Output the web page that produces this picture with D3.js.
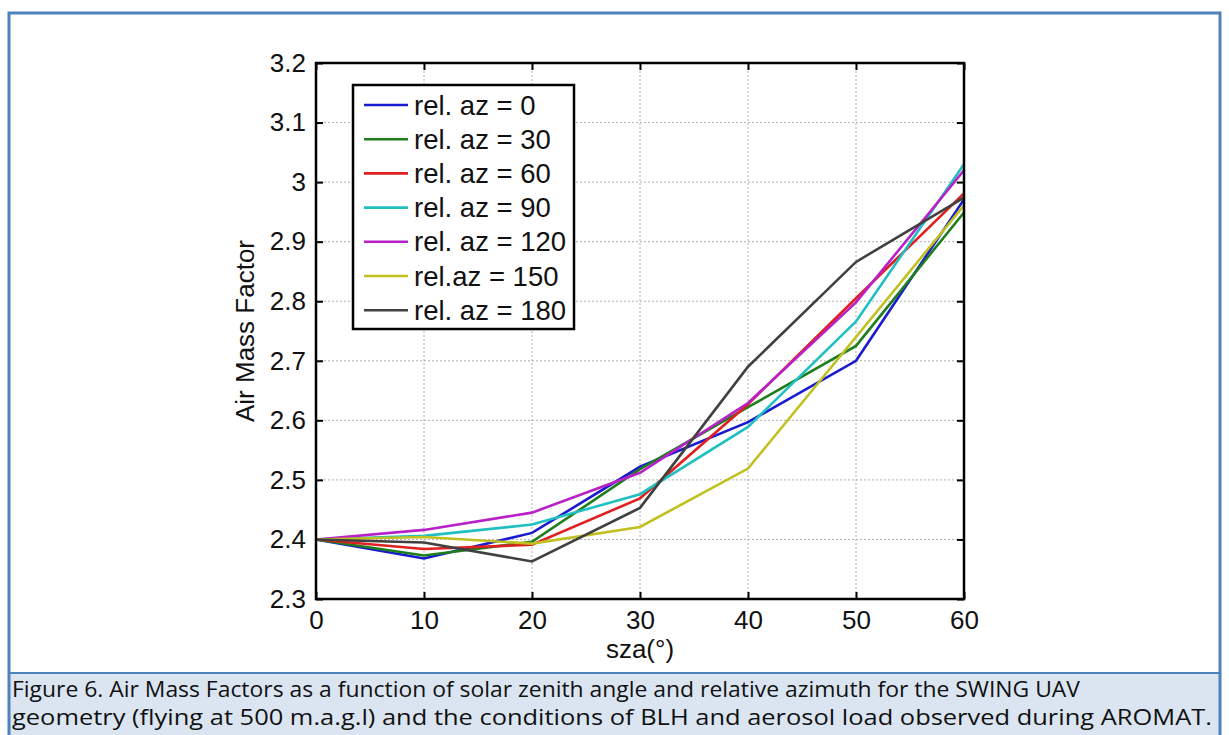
<!DOCTYPE html>
<html lang="en">
<head>
<meta charset="utf-8">
<title>Air Mass Factors</title>
<script src="https://d3js.org/d3.v7.min.js"></script>
<style>
    body { margin: 0; background: #fff; }
    svg { display: block; }
    .tick-label { font-family: "Liberation Sans", Arial, sans-serif; font-size: 26px; fill: #111; }
    .legend-label { font-family: "Liberation Sans", Arial, sans-serif; font-size: 27.5px; fill: #111; }
    .caption { font-family: "Open Sans", "Noto Sans", sans-serif; font-size: 21.5px; fill: #111; }
</style>
</head>
<body>
<div id="chart"></div>
<script>

// data
const sza = [0, 10, 20, 30, 40, 50, 60]
const seriesNames = ["rel. az = 0", "rel. az = 30", "rel. az = 60", "rel. az = 90", "rel. az = 120", "rel.az = 150", "rel. az = 180"]
const az0   = [2.40, 2.368, 2.411, 2.522, 2.597, 2.700, 2.971]
const az30  = [2.40, 2.373, 2.396, 2.518, 2.622, 2.725, 2.949]
const az60  = [2.40, 2.384, 2.391, 2.469, 2.627, 2.805, 2.981]
const az90  = [2.40, 2.406, 2.425, 2.476, 2.589, 2.766, 3.030]
const az120 = [2.40, 2.416, 2.445, 2.512, 2.629, 2.798, 3.020]
const az150 = [2.40, 2.404, 2.393, 2.421, 2.519, 2.740, 2.961]
const az180 = [2.40, 2.395, 2.363, 2.453, 2.690, 2.866, 2.974]
const seriesColors = ["#1a1ad0", "#1e7e1e", "#e02020", "#20c0c0", "#b820c8", "#c0c020", "#404040"]
const yTicks = [2.3, 2.4, 2.5, 2.6, 2.7, 2.8, 2.9, 3, 3.1, 3.2]
const xTicks = [0, 10, 20, 30, 40, 50, 60]
const captionLines = [
    "Figure 6. Air Mass Factors as a function of solar zenith angle and relative azimuth for the SWING UAV",
    "geometry (flying at 500 m.a.g.l) and the conditions of BLH and aerosol load observed during AROMAT."
]

const allSeries = [az0, az30, az60, az90, az120, az150, az180]

const W = 1229, H = 735
const margin = {top: 63, left: 316, right: 1229 - 964, bottom: 735 - 599}
const width = W - margin.left - margin.right,
      height = H - margin.top - margin.bottom

const svg = d3.select("#chart").append("svg")
    .attr("width", W)
    .attr("height", H)

// caption panel + outer frame
svg.append("rect")
    .attr("x", 9).attr("y", 673)
    .attr("width", 1211).attr("height", 70)
    .attr("fill", "#dbe5f1")
svg.append("line")
    .attr("x1", 9).attr("x2", 1220).attr("y1", 673).attr("y2", 673)
    .attr("stroke", "#4f81bd").attr("stroke-width", 2)
svg.append("path")
    .attr("d", "M9,740 V13 H1220 V740")
    .attr("fill", "none")
    .attr("stroke", "#4f81bd").attr("stroke-width", 3)

svg.selectAll("text.caption")
    .data(captionLines)
    .enter()
    .append("text")
    .attr("class", "caption")
    .attr("x", 12)
    .attr("y", (d, i) => 697 + i * 28)
    .attr("textLength", (d, i) => i === 0 ? 1068 : 1200)
    .attr("lengthAdjust", "spacingAndGlyphs")
    .text(d => d)

const g = svg.append("g")
    .attr("transform", "translate(" + margin.left + "," + margin.top + ")")

const x = d3.scaleLinear().domain([0, 60]).range([0, width])
const y = d3.scaleLinear().domain([2.3, 3.2]).range([height, 0])

// dotted grid
g.append("g")
    .selectAll("line")
    .data(xTicks.slice(1, -1))
    .enter().append("line")
    .attr("x1", d => x(d)).attr("x2", d => x(d))
    .attr("y1", 0).attr("y2", height)
    .attr("stroke", "#b0b0b0").attr("stroke-dasharray", "2,2")
g.append("g")
    .selectAll("line")
    .data(yTicks.slice(1, -1))
    .enter().append("line")
    .attr("x1", 0).attr("x2", width)
    .attr("y1", d => y(d)).attr("y2", d => y(d))
    .attr("stroke", "#b0b0b0").attr("stroke-dasharray", "2,2")

// axes, ticks inward (MATLAB box)
const tickLen = 7
const xAxisB = d3.axisBottom(x).tickValues(xTicks).tickSize(-tickLen).tickPadding(12).tickFormat(d3.format("d"))
const xAxisT = d3.axisTop(x).tickValues(xTicks).tickSize(-tickLen).tickFormat("")
const yAxisL = d3.axisLeft(y).tickValues(yTicks).tickSize(-tickLen).tickPadding(10).tickFormat(d => d3.format("")(+d.toFixed(1)))
const yAxisR = d3.axisRight(y).tickValues(yTicks).tickSize(-tickLen).tickFormat("")

function styleAxis(sel) {
    sel.select(".domain").remove()
    sel.selectAll(".tick line").attr("stroke", "#000").attr("stroke-width", 2)
    sel.selectAll(".tick text").attr("class", "tick-label").attr("fill", "#111")
}

g.append("g").attr("transform", "translate(0," + height + ")").call(xAxisB).call(styleAxis)
g.append("g").call(xAxisT).call(styleAxis)
g.append("g").call(yAxisL).call(styleAxis)
g.append("g").attr("transform", "translate(" + width + ",0)").call(yAxisR).call(styleAxis)

// series lines
const line = d3.line()
    .x((d, i) => x(sza[i]))
    .y(d => y(d))

g.selectAll(".series")
    .data(allSeries)
    .enter()
    .append("path")
    .attr("class", "series")
    .attr("d", line)
    .attr("fill", "none")
    .attr("stroke", (d, i) => seriesColors[i])
    .attr("stroke-width", 2.6)

// plot frame
g.append("rect")
    .attr("width", width).attr("height", height)
    .attr("fill", "none").attr("stroke", "#000").attr("stroke-width", 2.5)

// axis titles
g.append("text")
    .attr("class", "tick-label")
    .attr("x", width / 2)
    .attr("y", height + 59)
    .attr("text-anchor", "middle")
    .text("sza(°)")

g.append("text")
    .attr("class", "tick-label")
    .attr("transform", "translate(" + (-62) + "," + (height / 2) + ") rotate(-90)")
    .attr("text-anchor", "middle")
    .text("Air Mass Factor")

// legend
const legend = g.append("g").attr("transform", "translate(" + (353 - margin.left) + "," + (85 - margin.top) + ")")
legend.append("rect")
    .attr("width", 221).attr("height", 244)
    .attr("fill", "#fff").attr("stroke", "#000").attr("stroke-width", 2.5)

const rows = legend.selectAll(".row")
    .data(seriesNames)
    .enter().append("g")
    .attr("transform", (d, i) => "translate(0," + (20 + i * 34.2) + ")")

rows.append("line")
    .attr("x1", 11).attr("x2", 55)
    .attr("stroke", (d, i) => seriesColors[i])
    .attr("stroke-width", 2.6)
rows.append("text")
    .attr("class", "legend-label")
    .attr("x", 61)
    .attr("dy", "0.35em")
    .text(d => d)

</script>
</body>
</html>
